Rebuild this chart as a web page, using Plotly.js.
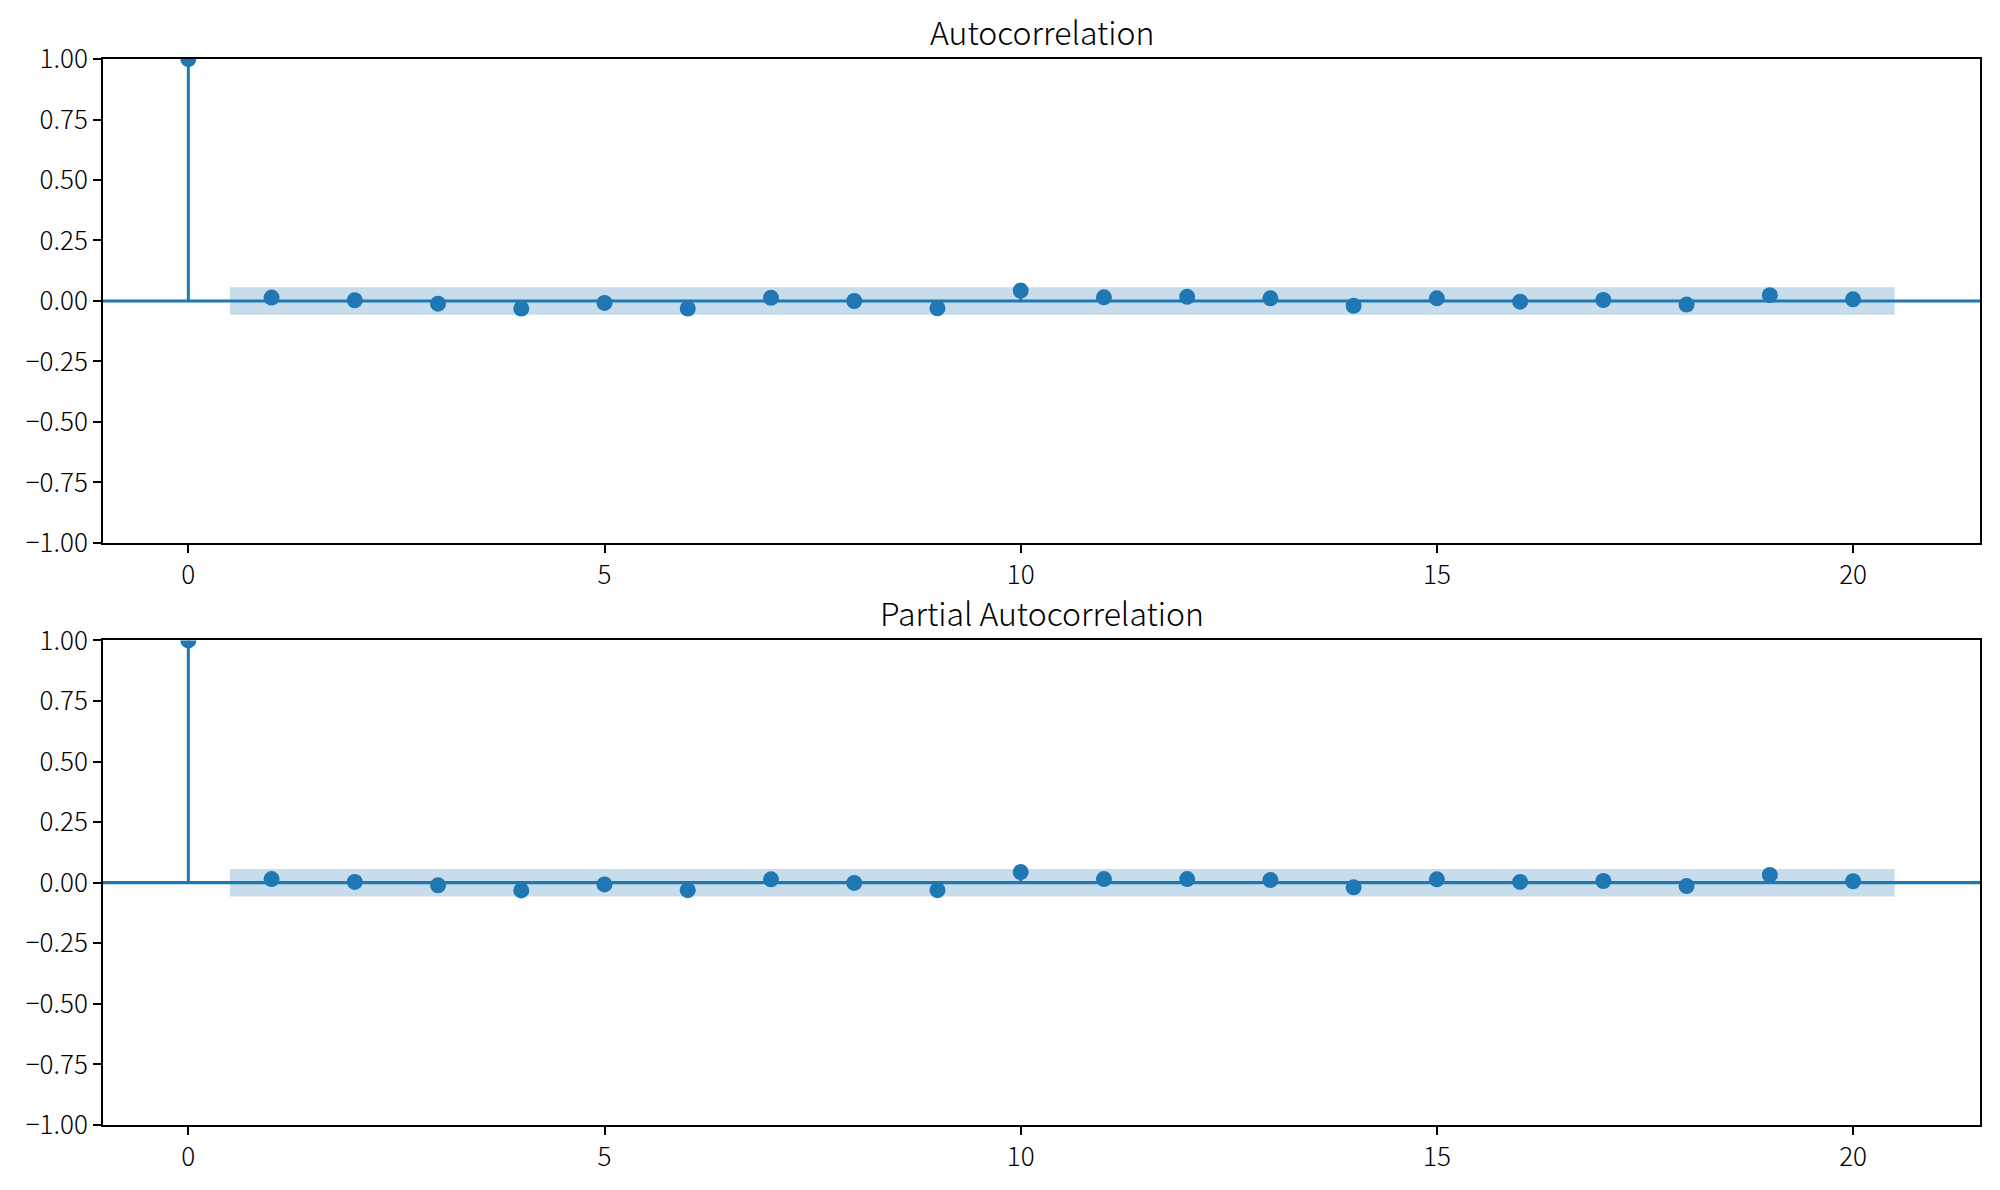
<!DOCTYPE html>
<html>
<head>
<meta charset="utf-8">
<script src="https://cdn.plot.ly/plotly-3.0.1.min.js"></script>
<style>html,body{margin:0;padding:0;background:#fff;}#chart{width:2000px;height:1190px;}</style>
</head>
<body>
<div id="chart"></div>
<script>
// ---- data ----
const lags = [0,1,2,3,4,5,6,7,8,9,10,11,12,13,14,15,16,17,18,19,20];
const acfValues = [1.0, 0.014, 0.003, -0.011, -0.031, -0.008, -0.031, 0.013, 0.000, -0.030, 0.043,
                   0.015, 0.017, 0.011, -0.020, 0.011, -0.003, 0.004, -0.015, 0.024, 0.007];
const pacfValues = [1.0, 0.015, 0.003, -0.011, -0.032, -0.007, -0.031, 0.014, -0.001, -0.031, 0.044,
                    0.015, 0.015, 0.011, -0.019, 0.014, 0.003, 0.007, -0.014, 0.032, 0.006];
const acfConf = 0.057;   // half-width of the confidence band
const pacfConf = 0.057;
const titles = ["Autocorrelation", "Partial Autocorrelation"];
const xTicks = [0, 5, 10, 15, 20];
const yTicks = [-1.00, -0.75, -0.50, -0.25, 0.00, 0.25, 0.50, 0.75, 1.00];

const C = '#1f77b4';
const FONT = '"Noto Sans CJK SC", "Noto Sans", sans-serif';

function buildTraces(values, conf, xa, ya) {
  const traces = [];
  // band: x from lag1-0.5 to lagN+0.5
  const bx = lags.slice(1).map((v, i, a) => i === 0 ? v - 0.5 : (i === a.length - 1 ? v + 0.5 : v));
  const up = bx.map(() => conf), lo = bx.map(() => -conf);
  traces.push({x: bx.concat(bx.slice().reverse()), y: up.concat(lo.slice().reverse()),
    type: 'scatter', mode: 'lines', fill: 'toself', fillcolor: 'rgba(31,119,180,0.25)',
    line: {width: 0}, hoverinfo: 'skip', xaxis: xa, yaxis: ya, showlegend: false});
  // zero line across the axes
  traces.push({x: [-1.025, 21.525], y: [0, 0], type: 'scatter', mode: 'lines',
    line: {color: C, width: 3.2}, xaxis: xa, yaxis: ya, showlegend: false, cliponaxis: true});
  // stems
  const sx = [], sy = [];
  lags.forEach((l, i) => { sx.push(l, l, null); sy.push(0, values[i], null); });
  traces.push({x: sx, y: sy, type: 'scatter', mode: 'lines', line: {color: C, width: 3},
    xaxis: xa, yaxis: ya, showlegend: false});
  // markers
  traces.push({x: lags, y: values, type: 'scatter', mode: 'markers',
    marker: {color: C, size: 16}, xaxis: xa, yaxis: ya, showlegend: false, cliponaxis: true});
  return traces;
}

const data = buildTraces(acfValues, acfConf, 'x', 'y').concat(buildTraces(pacfValues, pacfConf, 'x2', 'y2'));

function xAxis(anchor) {
  return {anchor: anchor, domain: [0, 1], range: [-1.025, 21.525], tickvals: xTicks,
    ticktext: xTicks.map(String), ticks: 'outside', ticklen: 8, tickwidth: 2, tickcolor: '#000',
    showline: true, linecolor: '#000', linewidth: 2, mirror: true, showgrid: false, zeroline: false,
    tickfont: {family: FONT, size: 26, color: '#000', weight: 300}};
}
function yAxis(anchor, domain) {
  return {anchor: anchor, domain: domain, range: [-1, 1], tickvals: yTicks,
    ticktext: yTicks.map(v => v.toFixed(2).replace('-', '\u2212')), ticks: 'outside', ticklen: 8, tickwidth: 2,
    tickcolor: '#000', showline: true, linecolor: '#000', linewidth: 2, mirror: true, showgrid: false,
    zeroline: false, tickfont: {family: FONT, size: 26, color: '#000', weight: 300}};
}

const layout = {
  width: 2000, height: 1190,
  margin: {l: 103, r: 20, t: 59, b: 65},
  paper_bgcolor: '#fff', plot_bgcolor: '#fff',
  xaxis: xAxis('y'), yaxis: yAxis('x', [0.546, 1]),
  xaxis2: xAxis('y2'), yaxis2: yAxis('x2', [0, 0.4546]),
  annotations: [
    {text: titles[0], xref: 'x domain', yref: 'y domain', x: 0.5, y: 1, xanchor: 'center', yanchor: 'bottom',
     yshift: 3, showarrow: false, font: {family: FONT, size: 32, color: '#000', weight: 300}},
    {text: titles[1], xref: 'x2 domain', yref: 'y2 domain', x: 0.5, y: 1, xanchor: 'center', yanchor: 'bottom',
     yshift: 3, showarrow: false, font: {family: FONT, size: 32, color: '#000', weight: 300}}
  ],
  showlegend: false
};

Plotly.newPlot('chart', data, layout, {displayModeBar: false, staticPlot: true});
</script>
</body>
</html>
